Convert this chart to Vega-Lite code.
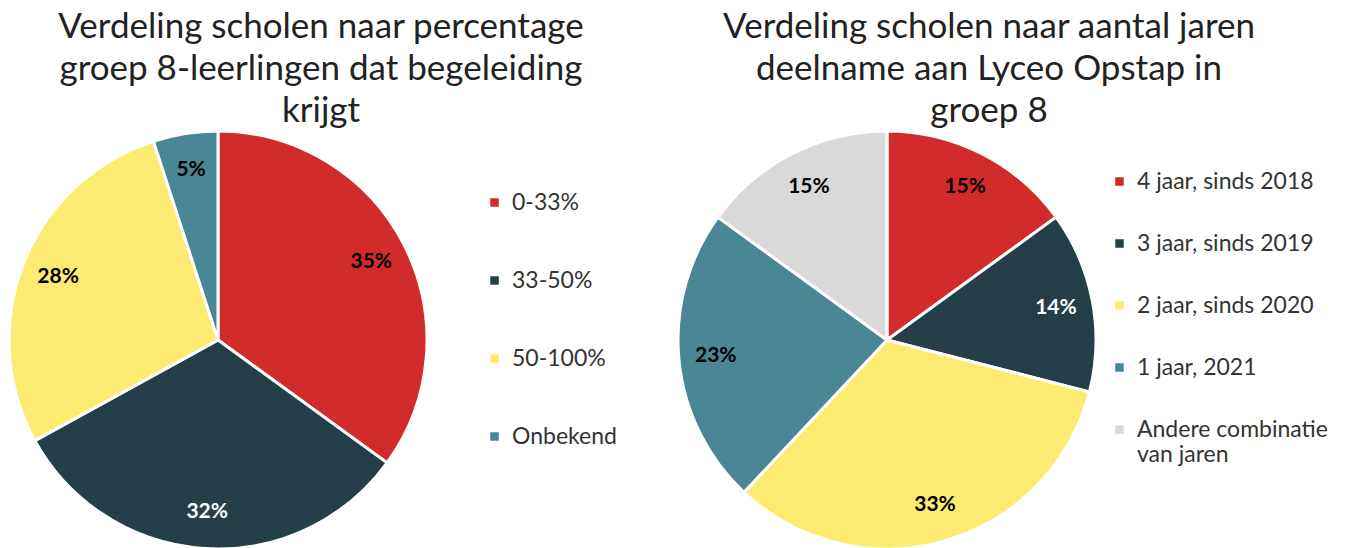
{
  "$schema": "https://vega.github.io/schema/vega-lite/v6.json",
  "padding": {"left": 0, "top": 10, "right": 0, "bottom": 0},
  "background": "white",
  "config": {"view": {"stroke": null}, "font": "Lato", "concat": {"spacing": 55}},
  "resolve": {"scale": {"color": "independent"}, "legend": {"color": "independent"}},
  "hconcat": [
    {
      "width": 436,
      "height": 416,
      "title": {"text": ["Verdeling scholen naar percentage", "groep 8-leerlingen dat begeleiding", "krijgt"], "fontSize": 35, "fontWeight": "normal", "lineHeight": 42, "dx": 103, "anchor": "middle", "offset": -4, "color": "#222222", "font": "Lato"},
      "data": {"values": [
        {"cat": "0-33%", "pct": 35, "i": 1, "label": "35%"},
        {"cat": "33-50%", "pct": 32, "i": 2, "label": "32%"},
        {"cat": "50-100%", "pct": 28, "i": 3, "label": "28%"},
        {"cat": "Onbekend", "pct": 5, "i": 4, "label": "5%"}
      ]},
      "encoding": {
        "theta": {"field": "pct", "type": "quantitative", "stack": true},
        "order": {"field": "i", "type": "quantitative"}
      },
      "layer": [
        {
          "mark": {"type": "arc", "outerRadius": 209, "stroke": "white", "strokeWidth": 3},
          "encoding": {
            "color": {"field": "cat", "type": "nominal",
              "scale": {"domain": ["0-33%", "33-50%", "50-100%", "Onbekend"], "range": ["#D22B2B", "#243F47", "#FDEA71", "#4A8695"]},
              "legend": {"orient": "none", "legendX": 483, "legendY": 59, "title": null, "labelFontSize": 23, "labelColor": "#333333", "symbolType": "square", "symbolSize": 100, "rowPadding": 54, "labelOffset": 6, "labelFont": "Lato"}
            }
          }
        },
        {
          "mark": {"type": "text", "radius": 172, "fontSize": 21, "fontWeight": "bold", "font": "Lato"},
          "encoding": {
            "text": {"field": "label"},
            "color": {"condition": {"test": "datum.cat == '33-50%'", "value": "white"}, "value": "black"}
          }
        }
      ]
    },
    {
      "width": 418,
      "height": 416,
      "title": {"text": ["Verdeling scholen naar aantal jaren", "deelname aan Lyceo Opstap in", "groep 8"], "fontSize": 35, "fontWeight": "normal", "lineHeight": 42, "dx": 102, "anchor": "middle", "offset": -4, "color": "#222222", "font": "Lato"},
      "data": {"values": [
        {"cat": "4 jaar, sinds 2018", "pct": 15, "i": 1, "label": "15%"},
        {"cat": "3 jaar, sinds 2019", "pct": 14, "i": 2, "label": "14%"},
        {"cat": "2 jaar, sinds 2020", "pct": 33, "i": 3, "label": "33%"},
        {"cat": "1 jaar, 2021", "pct": 23, "i": 4, "label": "23%"},
        {"cat": "Andere combinatie van jaren", "pct": 15, "i": 5, "label": "15%"}
      ]},
      "encoding": {
        "theta": {"field": "pct", "type": "quantitative", "stack": true},
        "order": {"field": "i", "type": "quantitative"}
      },
      "layer": [
        {
          "mark": {"type": "arc", "outerRadius": 209, "stroke": "white", "strokeWidth": 3},
          "encoding": {
            "color": {"field": "cat", "type": "nominal",
              "scale": {"domain": ["4 jaar, sinds 2018", "3 jaar, sinds 2019", "2 jaar, sinds 2020", "1 jaar, 2021", "Andere combinatie van jaren"], "range": ["#D22B2B", "#243F47", "#FDEA71", "#4A8695", "#D9D9D9"]},
              "legend": {"orient": "none", "legendX": 430, "legendY": 38, "title": null, "labelFontSize": 23, "labelColor": "#333333", "symbolType": "square", "symbolSize": 100, "rowPadding": 38, "labelOffset": 6, "labelFont": "Lato", "labelLimit": 300,
                "labelExpr": "datum.label == 'Andere combinatie van jaren' ? ['Andere combinatie', 'van jaren'] : datum.label"}
            }
          }
        },
        {
          "mark": {"type": "text", "radius": 172, "fontSize": 21, "fontWeight": "bold", "font": "Lato"},
          "encoding": {
            "text": {"field": "label"},
            "color": {"condition": {"test": "datum.cat == '3 jaar, sinds 2019'", "value": "white"}, "value": "black"}
          }
        }
      ]
    }
  ]
}
